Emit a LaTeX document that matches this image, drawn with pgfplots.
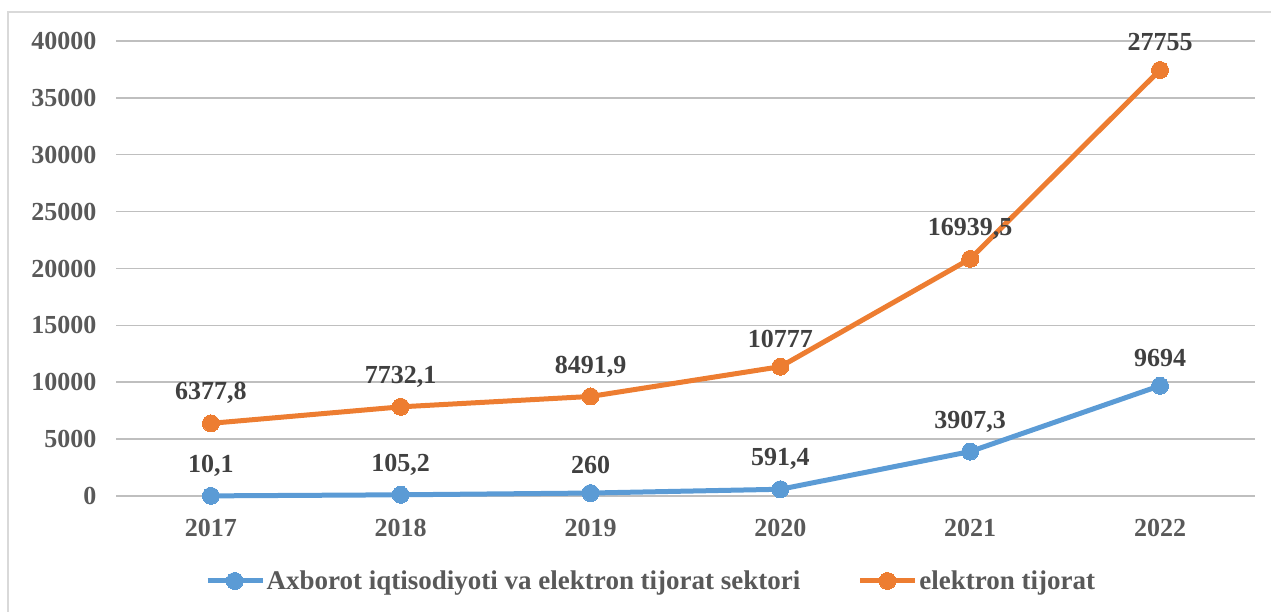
\documentclass[border=0pt]{standalone}
\usepackage{pgfplots}
\pgfplotsset{compat=1.18}
\usepackage{pgfplotstable}
\usepackage{fontspec}
\setmainfont{Liberation Serif}
\definecolor{cblue}{HTML}{5B9BD5}
\definecolor{corange}{HTML}{ED7D31}
\definecolor{tick}{HTML}{595959}
\definecolor{lab}{HTML}{404040}
\definecolor{grid}{HTML}{D9D9D9}
\pgfplotstableread{
x y lab
0 10.1 10,1
1 105.2 105,2
2 260 260
3 591.4 591,4
4 3907.3 3907,3
5 9694 9694
}\blue
\pgfplotstableread{
x y lab
0 6387.9 6377,8
1 7837.3 7732,1
2 8751.9 8491,9
3 11368.4 10777
4 20846.8 16939,5
5 37449 27755
}\orange
\begin{document}
\begin{tikzpicture}
\path[use as bounding box] (0,0) rectangle (1271pt,612pt);
\draw[grid, line width=2pt] (8pt,0) -- (8pt,600pt) -- (1280pt,600pt);
\begin{axis}[
  at={(116pt,116pt)}, anchor=south west,
  scale only axis, width=1139pt, height=455pt,
  xmin=-0.5, xmax=5.5, ymin=0, ymax=40000,
  xtick=data, xticklabels={2017,2018,2019,2020,2021,2022},
  ytick={0,5000,...,40000},
  yticklabels={0,5000,10000,15000,20000,25000,30000,35000,40000},
  scaled y ticks=false,
  axis line style={draw=none},
  major tick length=0pt,
  xmajorgrids=false,
  ymajorgrids=true, grid style={grid, line width=1.5pt},
  tick label style={font=\fontsize{26}{30}\selectfont\bfseries, text=tick},
  yticklabel style={xshift=-16pt},
  xticklabel style={yshift=-20pt},
  clip=false,
  point meta=explicit symbolic,
  nodes near coords,
  nodes near coords style={font=\fontsize{26}{30}\selectfont\bfseries, text=lab, anchor=south, yshift=16pt},
  legend style={at={(0.4697,-0.1868)}, anchor=center, draw=none, fill=none,
    font=\fontsize{27}{30}\selectfont\bfseries, text=tick,
    /tikz/every even column/.append style={column sep=56pt},
    legend columns=2, inner sep=0pt, nodes={inner sep=1.5pt}},
  legend cell align=left,
  legend image code/.code={\draw[#1, mark repeat=2, mark phase=2] plot coordinates {(0pt,0pt) (27pt,0pt) (55pt,0pt)};},
]
\addplot[cblue, line width=5pt, mark=*, mark size=8.5pt, mark options={line width=0pt}] table[x=x, y=y, meta=lab] {\blue};
\addlegendentry{Axborot iqtisodiyoti va elektron tijorat sektori}
\addplot[corange, line width=5pt, mark=*, mark size=8.5pt, mark options={line width=0pt}] table[x=x, y=y, meta=lab] {\orange};
\addlegendentry{elektron tijorat}
\end{axis}
\end{tikzpicture}
\end{document}
